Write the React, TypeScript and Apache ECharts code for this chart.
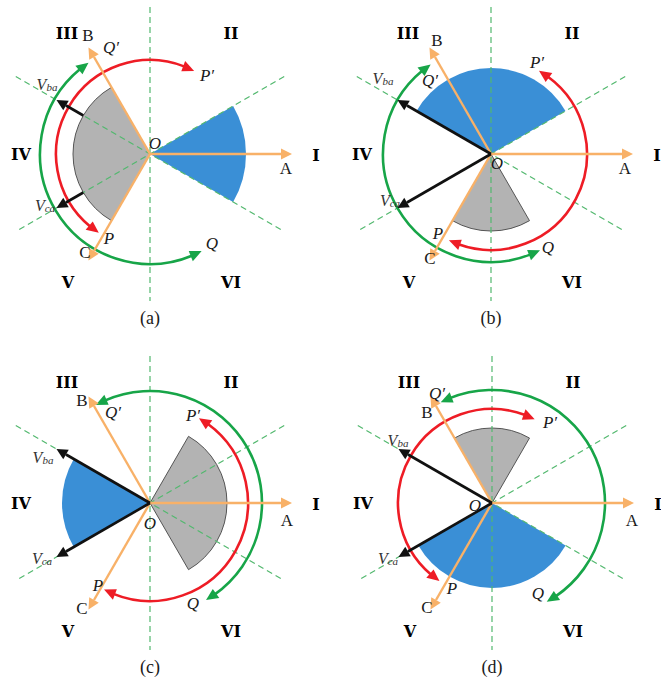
import React, { useEffect, useRef } from 'react';
import * as echarts from 'echarts';

// ---- data ----
const panelCaptions = ['(a)', '(b)', '(c)', '(d)'];
const regionNames = ['I', 'II', 'III', 'IV', 'V', 'VI'];

// phase voltage vectors A, B, C: direction (deg) and length
const phaseNames = ['A', 'B', 'C'];
const phaseAngles = [0, 120, 240];
const phaseLengths = [142, 123, 123];

// line voltage vectors V_ba, V_ca
const lineVoltSubs = ['ba', 'ca'];
const lineVoltAngles = [150, 210];
const lineVoltLengths = [108, 108];
const lineVoltStarts = [77, 0, 0, 0];

// sector boundary guides through O: direction (deg) and half length
const guideAngles = [90, 30, 150];
const guideLengths = [147, 155, 155];

// shaded sectors per panel: [from deg, to deg, radius]
const blueSectors = [
  [-30, 30, 96],
  [30, 150, 86],
  [150, 210, 88],
  [210, 330, 85],
];
const greySectors = [
  [120, 240, 77],
  [240, 300, 77],
  [-60, 60, 77],
  [60, 120, 75],
];

// double-headed arcs per panel: [from deg, to deg, radius]
const redArcs = [
  [62, 237, 94],
  [-116, 60, 96],
  [-118, 60, 98],
  [63, 236, 94],
];
const greenArcs = [
  [124, 298, 110],
  [124, 297, 108],
  [-60, 119, 112],
  [-61, 117, 113],
];

// ---- layout ----
const centers = [
  [150, 154],
  [491, 154],
  [150, 503],
  [492, 503],
];
const R_MAX = 200;

const regionOffsets = [
  [166, 1],
  [81, -121],
  [-83, -121],
  [-129, 0],
  [-82, 128],
  [81, 128],
];
const captionOffset = [0, 164];

type Off = Record<string, number[]>;
const labelOffsets: Off[] = [
  { A: [136, 14], B: [-62, -119], C: [-65, 98], O: [5, -11], P: [-41, 84], Q: [62, 89], Pp: [57, -79], Qp: [-39, -107], Vba: [-103, -70], Vca: [-105, 51] },
  { A: [134, 14], B: [-54, -114], C: [-61, 104], O: [6, 9], P: [-53, 79], Q: [57, 93], Pp: [46, -92], Qp: [-61, -74], Vba: [-108, -76], Vca: [-101, 46] },
  { A: [137, 17], B: [-68, -103], C: [-68, 105], O: [0, 20], P: [-52, 82], Q: [43, 100], Pp: [43, -88], Qp: [-37, -91], Vba: [-107, -46], Vca: [-108, 55] },
  { A: [140, 17], B: [-65, -91], C: [-65, 104], O: [-17, 2], P: [-40, 85], Q: [46, 90], Pp: [58, -81], Qp: [-55, -110], Vba: [-94, -63], Vca: [-104, 55] },
];

const COLORS = {
  phase: '#f8b168',
  lineVolt: '#111111',
  red: '#ee1c25',
  green: '#17a548',
  blue: '#3a8fd6',
  grey: '#adadad',
  greyEdge: '#4a4a4a',
  guide: '#52b86e',
};

const SERIF = '"Liberation Serif", "Times New Roman", serif';
const DEG = Math.PI / 180;

function helpers(api: any) {
  const pt = (r: number, a: number) => api.coord([r, a]) as number[];
  const c = pt(0, 0);
  const rad = (r: number) => {
    const p = pt(r, 0);
    return Math.hypot(p[0] - c[0], p[1] - c[1]);
  };
  return { pt, c, rad };
}

function headPolygon(tip: number[], base: number[], hw: number, color: string) {
  const dx = tip[0] - base[0];
  const dy = tip[1] - base[1];
  const len = Math.hypot(dx, dy) || 1;
  const px = -dy / len;
  const py = dx / len;
  return {
    type: 'polygon',
    shape: {
      points: [
        tip,
        [base[0] + px * hw, base[1] + py * hw],
        [base[0] - px * hw, base[1] - py * hw],
      ],
    },
    style: { fill: color },
  };
}

function sectorSeries(p: number) {
  const items = [
    { v: blueSectors[p], fill: COLORS.blue, stroke: 'none', opacity: 1 },
    { v: greySectors[p], fill: COLORS.grey, stroke: COLORS.greyEdge, opacity: 0.92 },
  ];
  return {
    type: 'custom',
    coordinateSystem: 'polar',
    polarIndex: p,
    z: 1,
    silent: true,
    data: items.map((it) => it.v),
    renderItem: (params: any, api: any) => {
      const it = items[params.dataIndex];
      const { c, rad } = helpers(api);
      const [a1, a2, r] = it.v;
      return {
        type: 'sector',
        shape: { cx: c[0], cy: c[1], r0: 0, r: rad(r), startAngle: -a2 * DEG, endAngle: -a1 * DEG, clockwise: true },
        style: { fill: it.fill, stroke: it.stroke, lineWidth: 1, opacity: it.opacity },
      };
    },
  };
}

function guideSeries(p: number) {
  return {
    type: 'custom',
    coordinateSystem: 'polar',
    polarIndex: p,
    z: 2,
    silent: true,
    data: guideAngles.map((a, i) => [guideLengths[i], a]),
    renderItem: (params: any, api: any) => {
      const { pt } = helpers(api);
      const a = guideAngles[params.dataIndex];
      const L = guideLengths[params.dataIndex];
      const s = pt(L, a);
      const e = pt(L, a + 180);
      return {
        type: 'line',
        shape: { x1: s[0], y1: s[1], x2: e[0], y2: e[1] },
        style: { stroke: COLORS.guide, lineWidth: 1.2, lineDash: [6, 4] },
      };
    },
  };
}

function arcSeries(p: number) {
  const items = [
    { v: redArcs[p], color: COLORS.red },
    { v: greenArcs[p], color: COLORS.green },
  ];
  return {
    type: 'custom',
    coordinateSystem: 'polar',
    polarIndex: p,
    z: 3,
    silent: true,
    data: items.map((it) => it.v),
    renderItem: (params: any, api: any) => {
      const it = items[params.dataIndex];
      const { pt, c, rad } = helpers(api);
      const [a1, a2, r] = it.v;
      const rp = rad(r);
      const headLen = 12;
      const hw = 5.5;
      const hd = (headLen / rp) / DEG;
      return {
        type: 'group',
        children: [
          {
            type: 'arc',
            shape: { cx: c[0], cy: c[1], r: rp, startAngle: -(a2 - hd + 1) * DEG, endAngle: -(a1 + hd - 1) * DEG, clockwise: true },
            style: { stroke: it.color, lineWidth: 2.6, fill: 'none' },
          },
          {
            type: 'polygon',
            shape: { points: [pt(r, a2), pt(r - hw, a2 - hd), pt(r + hw, a2 - hd)] },
            style: { fill: it.color },
          },
          {
            type: 'polygon',
            shape: { points: [pt(r, a1), pt(r - hw, a1 + hd), pt(r + hw, a1 + hd)] },
            style: { fill: it.color },
          },
        ],
      };
    },
  };
}

function vectorSeries(p: number) {
  const items = [
    ...phaseAngles.map((a, i) => ({ a, len: phaseLengths[i], start: 0, color: COLORS.phase, w: 2.4 })),
    ...lineVoltAngles.map((a, i) => ({ a, len: lineVoltLengths[i], start: lineVoltStarts[p], color: COLORS.lineVolt, w: 2.6 })),
  ];
  return {
    type: 'custom',
    coordinateSystem: 'polar',
    polarIndex: p,
    z: 4,
    silent: true,
    data: items.map((it) => [it.len, it.a]),
    renderItem: (params: any, api: any) => {
      const it = items[params.dataIndex];
      const { pt } = helpers(api);
      const headLen = 11;
      const s = pt(it.start, it.a);
      const b = pt(it.len - headLen, it.a);
      const tip = pt(it.len, it.a);
      return {
        type: 'group',
        children: [
          {
            type: 'line',
            shape: { x1: s[0], y1: s[1], x2: b[0], y2: b[1] },
            style: { stroke: it.color, lineWidth: it.w },
          },
          headPolygon(tip, b, 5.5, it.color),
        ],
      };
    },
  };
}

function textEl(x: number, y: number, style: any) {
  return {
    type: 'text',
    x,
    y,
    style: { align: 'center', verticalAlign: 'middle', fill: '#1a1a1a', ...style },
  };
}

function labelSeries(p: number) {
  return {
    type: 'custom',
    coordinateSystem: 'polar',
    polarIndex: p,
    z: 5,
    silent: true,
    data: [[0, 0]],
    renderItem: (params: any, api: any) => {
      const { c } = helpers(api);
      const o = labelOffsets[p];
      const at = (k: number[]) => [c[0] + k[0], c[1] + k[1]];
      const children: any[] = [];
      const plain = { fontFamily: SERIF, fontSize: 17 };
      const ital = { fontFamily: SERIF, fontSize: 17, fontStyle: 'italic' };
      phaseNames.forEach((n) => {
        const q = at(o[n]);
        children.push(textEl(q[0], q[1], { text: n, ...plain }));
      });
      const italics: [string, string][] = [
        ['O', 'O'],
        ['P', 'P'],
        ['Q', 'Q'],
        ['Pp', 'P\u2032'],
        ['Qp', 'Q\u2032'],
      ];
      italics.forEach(([k, t]) => {
        const q = at(o[k]);
        children.push(textEl(q[0], q[1], { text: t, ...ital }));
      });
      lineVoltSubs.forEach((sub, i) => {
        const q = at(o[i === 0 ? 'Vba' : 'Vca']);
        children.push(
          textEl(q[0], q[1], {
            text: `{v|V}{s|${sub}}`,
            rich: {
              v: { fontFamily: SERIF, fontSize: 16, fontStyle: 'italic', fill: '#333', verticalAlign: 'top', lineHeight: 16 },
              s: { fontFamily: SERIF, fontSize: 11, fontStyle: 'italic', fill: '#333', verticalAlign: 'bottom', lineHeight: 11, padding: [9, 0, 0, 0] },
            },
          })
        );
      });
      regionNames.forEach((n, i) => {
        const q = at(regionOffsets[i]);
        children.push(textEl(q[0], q[1], { text: n, fontFamily: '"DejaVu Serif", serif', fontWeight: 'bold', fontSize: 16, fill: '#000' }));
      });
      const cap = at(captionOffset);
      children.push(textEl(cap[0], cap[1], { text: panelCaptions[p], fontFamily: SERIF, fontSize: 18 }));
      return { type: 'group', children };
    },
  };
}

export default function App() {
  const ref = useRef<HTMLDivElement>(null);

  useEffect(() => {
    if (!ref.current) return;
    const chart = echarts.init(ref.current, undefined, { renderer: 'svg' });
    const polar = centers.map((c) => ({ center: c, radius: R_MAX }));
    const angleAxis = centers.map((_, i) => ({
      polarIndex: i,
      type: 'value',
      min: 0,
      max: 360,
      startAngle: 0,
      clockwise: false,
      show: false,
    }));
    const radiusAxis = centers.map((_, i) => ({
      polarIndex: i,
      type: 'value',
      min: 0,
      max: R_MAX,
      show: false,
    }));
    const series: any[] = [];
    centers.forEach((_, p) => {
      series.push(sectorSeries(p), guideSeries(p), arcSeries(p), vectorSeries(p), labelSeries(p));
    });
    chart.setOption({
      animation: false,
      backgroundColor: '#ffffff',
      polar,
      angleAxis,
      radiusAxis,
      series,
    });
    return () => chart.dispose();
  }, []);

  return (
    <div
      ref={ref}
      style={{ position: 'absolute', left: 0, top: 0, width: 661, height: 679, background: '#fff' }}
    />
  );
}
